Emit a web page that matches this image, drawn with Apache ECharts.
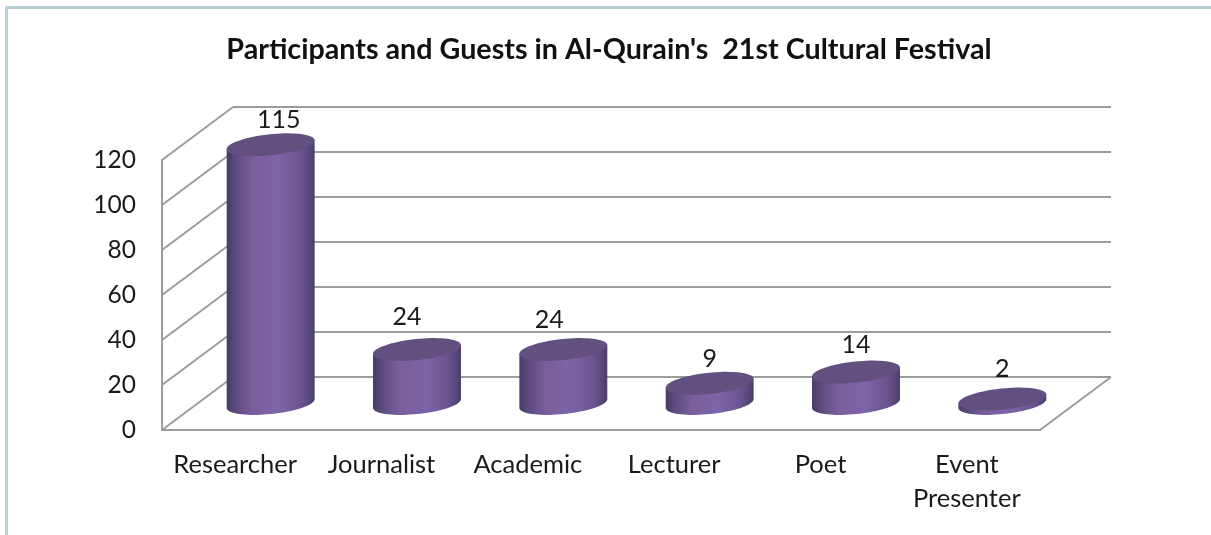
<!DOCTYPE html>
<html><head><meta charset="utf-8">
<style>html,body{margin:0;padding:0;background:#fff}#c{width:1211px;height:535px}</style>
<script src="https://cdn.jsdelivr.net/npm/echarts@6/dist/echarts.min.js"></script>
</head><body><div id="c"></div>
<script>
const titleText = "Participants and Guests in Al-Qurain's  21st Cultural Festival";
const categories = ["Researcher", "Journalist", "Academic", "Lecturer", "Poet", "Event\nPresenter"];
const values = [115, 24, 24, 9, 14, 2];
const yTicks = [0, 20, 40, 60, 80, 100, 120];

const FONT = 'Lato, "Open Sans", sans-serif';
const DEPTH_X = 71, DEPTH_Y = 53, WALL = '#9c9c9c';
const labelNudge = [[8,-25],[-10,-33],[-14,-30],[0,-24],[0,-27],[0,-30]];
const TILT = -6 * Math.PI / 180;

function ellipsePt(cx, cy, a, b, t) {
  const c = Math.cos(t), s = Math.sin(t);
  return [cx + a*c*Math.cos(TILT) - b*s*Math.sin(TILT), cy + a*c*Math.sin(TILT) + b*s*Math.cos(TILT)];
}
function arc(cx, cy, a, b, t0, t1, n) {
  const p = [];
  for (let i = 0; i <= n; i++) p.push(ellipsePt(cx, cy, a, b, t0 + (t1-t0)*i/n));
  return p;
}
const barGrad = new echarts.graphic.LinearGradient(0,0,1,0,[
  {offset:0,color:'#493a66'},{offset:.1,color:'#5b4a7e'},{offset:.3,color:'#7a5f9e'},
  {offset:.6,color:'#7d63a9'},{offset:.85,color:'#6a5490'},{offset:1,color:'#4c3d6a'}]);

function renderWalls(params, api) {
  const v = api.value(0);
  const cs = params.coordSys;
  const y = api.coord([0, v])[1];
  const left = cs.x, right = cs.x + cs.width;
  const line = (x1,y1,x2,y2) => ({type:'line',shape:{x1,y1,x2,y2},style:{stroke:WALL,lineWidth:2}});
  const kids = [
    line(left,y,left+DEPTH_X,y-DEPTH_Y),
    line(left+DEPTH_X,y-DEPTH_Y,right+DEPTH_X,y-DEPTH_Y)
  ];
  if (v === 0) kids.push(line(right,y,right+DEPTH_X,y-DEPTH_Y));
  return {type:'group',children:kids};
}
function renderBar(params, api) {
  const idx = api.value(0), v = api.value(1);
  const base = api.coord([idx, 0]), top = api.coord([idx, v]);
  const bw = api.size([1, 0])[0] * 0.6;
  const cx = base[0] + DEPTH_X/2, by = base[1] - DEPTH_Y/2, ty = top[1] - DEPTH_Y/2;
  const a = bw/2 + 0.3, b = 10.5;
  const t0 = Math.atan2(-b*Math.sin(TILT), a*Math.cos(TILT));
  const bottomHalf = arc(cx, by, a, b, t0+Math.PI, t0, 40);
  const R = ellipsePt(cx, ty, a, b, t0), L = ellipsePt(cx, ty, a, b, t0+Math.PI);
  const body = bottomHalf.concat([R, L]);
  const cap = arc(cx, ty, a, b, 0, Math.PI*2, 72);
  const n = labelNudge[idx];
  return {type:'group',children:[
    {type:'polygon',shape:{points:body},style:{fill:barGrad}},
    {type:'polygon',shape:{points:cap},style:{fill:'#62507f'}},
    {type:'text',style:{text:String(v),x:cx+n[0],y:ty+n[1],align:'center',verticalAlign:'middle',
      font:'25px '+FONT,fill:'#1a1a1a'}}
  ]};
}
const chart = echarts.init(document.getElementById('c'), null, {renderer:'canvas'});
chart.setOption({
  animation:false,
  backgroundColor:'#fff',
  title:{text:titleText,left:604,top:30,textAlign:'center',
    textStyle:{fontFamily:FONT,fontSize:28.7,fontWeight:'bold',color:'#111'}},
  grid:{left:162,right:171,top:160,bottom:105},
  xAxis:{type:'category',data:categories,
    axisLine:{lineStyle:{color:WALL,width:2}},axisTick:{show:false},
    axisLabel:{interval:0,margin:18,lineHeight:34,fontFamily:FONT,fontSize:25.5,color:'#1a1a1a'}},
  yAxis:{type:'value',min:0,max:120,interval:20,
    axisLine:{show:true,lineStyle:{color:WALL,width:2}},axisTick:{show:false},splitLine:{show:false},
    axisLabel:{margin:26,fontFamily:FONT,fontSize:24.5,color:'#1a1a1a',padding:[8,0,0,0]}},
  graphic:[
    {type:'rect',shape:{x:5,y:6,width:1206,height:3},style:{fill:'#b4cbd0'},silent:true},
    {type:'rect',shape:{x:5,y:6,width:3,height:529},style:{fill:'#bdd3d8'},silent:true}
  ],
  series:[
    {type:'custom',coordinateSystem:'cartesian2d',z:1,silent:true,clip:false,
     data:yTicks.map(v=>[v]),encode:{y:0},dimensions:['tick'],renderItem:renderWalls},
    {type:'custom',coordinateSystem:'cartesian2d',z:3,silent:true,clip:false,
     data:values.map((v,i)=>[i,v]),encode:{x:0,y:1},renderItem:renderBar}
  ]
});
</script></body></html>
